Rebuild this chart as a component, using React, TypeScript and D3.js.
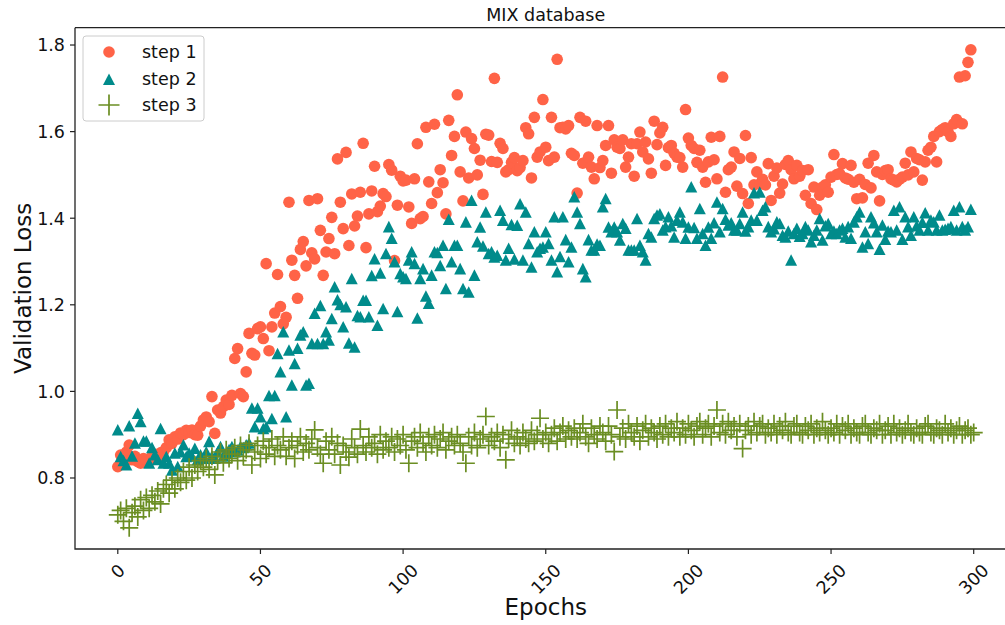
import * as d3 from "d3";

// validation loss per epoch
const step1 = [
  0.826, 0.853, 0.84, 0.86, 0.876, 0.842, 0.85, 0.838, 0.834, 0.845,
  0.84, 0.838, 0.85, 0.855, 0.849, 0.858, 0.861, 0.87, 0.888, 0.88,
  0.895, 0.89, 0.904, 0.9, 0.91, 0.905, 0.911, 0.9, 0.899, 0.92,
  0.934, 0.941, 0.93, 0.988, 0.903, 0.957, 0.95, 0.965, 0.98, 0.97,
  0.991, 1.076, 1.099, 0.995, 0.988, 1.045, 1.134, 1.088, 1.084, 1.145,
  1.149, 1.122, 1.295, 1.094, 1.149, 1.181, 1.27, 1.196, 1.156, 1.171,
  1.437, 1.303, 1.268, 1.215, 1.328, 1.346, 1.29, 1.441, 1.32, 1.306,
  1.445, 1.372, 1.268, 1.322, 1.353, 1.402, 1.318, 1.537, 1.437, 1.376,
  1.552, 1.337, 1.456, 1.382, 1.405, 1.46, 1.573, 1.332, 1.41, 1.463,
  1.52, 1.415, 1.428, 1.457, 1.45, 1.524, 1.511, 1.302, 1.43, 1.497,
  1.486, 1.488, 1.426, 1.388, 1.491, 1.572, 1.399, 1.404, 1.61, 1.484,
  1.434, 1.617, 1.459, 1.512, 1.482, 1.41, 1.626, 1.545, 1.589, 1.685,
  1.507, 1.44, 1.599, 1.493, 1.584, 1.561, 1.5, 1.534, 1.455, 1.594,
  1.592, 1.531, 1.723, 1.529, 1.573, 1.561, 1.507, 1.512, 1.529, 1.54,
  1.51, 1.517, 1.533, 1.609, 1.595, 1.493, 1.633, 1.541, 1.553, 1.674,
  1.564, 1.533, 1.633, 1.541, 1.767, 1.609, 1.61, 1.606, 1.614, 1.55,
  1.545, 1.458, 1.633, 1.527, 1.624, 1.541, 1.518, 1.491, 1.614, 1.517,
  1.533, 1.568, 1.614, 1.504, 1.581, 1.564, 1.561, 1.581, 1.518, 1.541,
  1.572, 1.497, 1.572, 1.599, 1.553, 1.576, 1.537, 1.504, 1.624, 1.57,
  1.597, 1.61, 1.522, 1.563, 1.568, 1.55, 1.541, 1.54, 1.518, 1.651,
  1.585, 1.568, 1.561, 1.529, 1.557, 1.518, 1.483, 1.53, 1.587, 1.535,
  1.491, 1.589, 1.726, 1.46, 1.512, 1.518, 1.553, 1.474, 1.538, 1.457,
  1.591, 1.434, 1.54, 1.477, 1.507, 1.479, 1.49, 1.477, 1.526, 1.441,
  1.497, 1.516, 1.458, 1.479, 1.524, 1.533, 1.512, 1.491, 1.522, 1.497,
  1.51, 1.453, 1.512, 1.434, 1.472, 1.42, 1.453, 1.472, 1.477, 1.46,
  1.495, 1.547, 1.501, 1.503, 1.526, 1.493, 1.49, 1.522, 1.483, 1.445,
  1.49, 1.447, 1.478, 1.527, 1.47, 1.545, 1.507, 1.44, 1.501, 1.51,
  1.512, 1.491, 1.488, 1.484, 1.49, 1.495, 1.527, 1.5, 1.553, 1.507,
  1.538, 1.535, 1.488, 1.53, 1.557, 1.564, 1.589, 1.53, 1.6, 1.605,
  1.609, 1.6, 1.589, 1.618, 1.628, 1.726, 1.618, 1.729, 1.76, 1.789,
];

const step2 = [
  0.911, 0.849, 0.84, 0.83, 0.92, 0.85, 0.88, 0.949, 0.93, 0.885,
  0.885, 0.834, 0.87, 0.853, 0.842, 0.914, 0.834, 0.849, 0.834, 0.818,
  0.857, 0.826, 0.86, 0.876, 0.849, 0.857, 0.85, 0.868, 0.842, 0.853,
  0.845, 0.86, 0.884, 0.85, 0.845, 0.86, 0.872, 0.85, 0.857, 0.865,
  0.872, 0.86, 0.864, 0.872, 0.87, 0.876, 0.88, 0.961, 0.918, 0.961,
  0.941, 0.914, 0.918, 0.99, 0.937, 0.99, 1.087, 1.045, 1.137, 0.941,
  1.095, 1.014, 1.064, 1.099, 1.13, 1.137, 1.014, 1.018, 1.11, 1.18,
  1.11, 1.198, 1.11, 1.137, 1.118, 1.168, 1.241, 1.211, 1.2, 1.149,
  1.195, 1.111, 1.26, 1.102, 1.175, 1.172, 1.21, 1.21, 1.172, 1.267,
  1.306, 1.152, 1.273, 1.191, 1.318, 1.38, 1.353, 1.299, 1.184, 1.272,
  1.264, 1.26, 1.303, 1.322, 1.295, 1.169, 1.26, 1.283, 1.22, 1.203,
  1.268, 1.322, 1.32, 1.29, 1.337, 1.237, 1.397, 1.299, 1.337, 1.337,
  1.283, 1.237, 1.391, 1.229, 1.441, 1.268, 1.345, 1.379, 1.335, 1.414,
  1.318, 1.322, 1.31, 1.314, 1.418, 1.395, 1.303, 1.33, 1.385, 1.305,
  1.383, 1.433, 1.303, 1.414, 1.341, 1.287, 1.368, 1.322, 1.33, 1.333,
  1.368, 1.341, 1.303, 1.403, 1.276, 1.311, 1.403, 1.35, 1.299, 1.333,
  1.449, 1.414, 1.387, 1.283, 1.264, 1.35, 1.326, 1.326, 1.34, 1.337,
  1.426, 1.445, 1.379, 1.368, 1.379, 1.368, 1.349, 1.387, 1.376, 1.326,
  1.326, 1.326, 1.399, 1.337, 1.322, 1.303, 1.364, 1.356, 1.399, 1.407,
  1.41, 1.372, 1.38, 1.403, 1.382, 1.356, 1.395, 1.414, 1.391, 1.353,
  1.379, 1.472, 1.378, 1.353, 1.422, 1.364, 1.337, 1.379, 1.353, 1.389,
  1.437, 1.368, 1.422, 1.397, 1.384, 1.389, 1.372, 1.372, 1.387, 1.414,
  1.37, 1.38, 1.395, 1.458, 1.395, 1.46, 1.418, 1.426, 1.38, 1.368,
  1.375, 1.391, 1.387, 1.36, 1.356, 1.37, 1.303, 1.364, 1.376, 1.358,
  1.364, 1.38, 1.372, 1.345, 1.36, 1.372, 1.399, 1.349, 1.382, 1.387,
  1.364, 1.37, 1.364, 1.372, 1.376, 1.356, 1.38, 1.353, 1.391, 1.403,
  1.414, 1.333, 1.368, 1.341, 1.403, 1.389, 1.368, 1.328, 1.384, 1.351,
  1.37, 1.368, 1.418, 1.372, 1.426, 1.351, 1.403, 1.38, 1.36, 1.403,
  1.382, 1.372, 1.39, 1.412, 1.372, 1.395, 1.391, 1.372, 1.407, 1.372,
  1.374, 1.376, 1.38, 1.418, 1.372, 1.426, 1.38, 1.372, 1.38, 1.42,
];

const step3 = [
  0.715, 0.725, 0.7, 0.73, 0.685, 0.72, 0.735, 0.71, 0.75, 0.725,
  0.755, 0.73, 0.76, 0.745, 0.77, 0.74, 0.775, 0.785, 0.765, 0.795,
  0.775, 0.8, 0.79, 0.815, 0.795, 0.825, 0.8, 0.83, 0.815, 0.84,
  0.825, 0.845, 0.82, 0.85, 0.807, 0.84, 0.86, 0.835, 0.865, 0.845,
  0.855, 0.87, 0.84, 0.875, 0.85, 0.865, 0.88, 0.83, 0.86, 0.875,
  0.845, 0.885, 0.855, 0.87, 0.89, 0.85, 0.875, 0.865, 0.895, 0.85,
  0.87, 0.885, 0.845, 0.875, 0.895, 0.86, 0.88, 0.865, 0.89, 0.911,
  0.87, 0.855, 0.834, 0.885, 0.865, 0.895, 0.855, 0.88, 0.83, 0.875,
  0.86, 0.848, 0.89, 0.87, 0.855, 0.913, 0.875, 0.86, 0.895, 0.87,
  0.88, 0.855, 0.9, 0.865, 0.885, 0.87, 0.895, 0.86, 0.89, 0.875,
  0.9, 0.865, 0.834, 0.885, 0.895, 0.87, 0.905, 0.88, 0.86, 0.895,
  0.875, 0.9, 0.87, 0.89, 0.905, 0.865, 0.885, 0.895, 0.875, 0.9,
  0.88, 0.86, 0.834, 0.895, 0.875, 0.905, 0.87, 0.89, 0.9, 0.942,
  0.875, 0.895, 0.885, 0.905, 0.87, 0.9, 0.842, 0.89, 0.91, 0.88,
  0.895, 0.875, 0.905, 0.89, 0.88, 0.91, 0.885, 0.9, 0.938, 0.89,
  0.905, 0.88, 0.9, 0.915, 0.885, 0.905, 0.92, 0.89, 0.91, 0.895,
  0.915, 0.89, 0.905, 0.925, 0.895, 0.88, 0.915, 0.9, 0.89, 0.92,
  0.905, 0.885, 0.92, 0.9, 0.861, 0.957, 0.895, 0.915, 0.89, 0.925,
  0.905, 0.895, 0.92, 0.885, 0.91, 0.925, 0.895, 0.915, 0.905, 0.89,
  0.92, 0.9, 0.925, 0.895, 0.915, 0.905, 0.93, 0.895, 0.915, 0.9,
  0.925, 0.91, 0.895, 0.92, 0.93, 0.9, 0.915, 0.925, 0.895, 0.92,
  0.957, 0.905, 0.925, 0.9, 0.93, 0.91, 0.92, 0.895, 0.925, 0.868,
  0.91, 0.92, 0.9, 0.93, 0.905, 0.92, 0.925, 0.9, 0.915, 0.905,
  0.925, 0.9, 0.92, 0.91, 0.93, 0.905, 0.9, 0.92, 0.925, 0.905,
  0.9, 0.92, 0.91, 0.925, 0.9, 0.915, 0.905, 0.93, 0.91, 0.9,
  0.915, 0.905, 0.925, 0.9, 0.92, 0.91, 0.925, 0.9, 0.915, 0.905,
  0.9, 0.92, 0.925, 0.905, 0.9, 0.915, 0.91, 0.925, 0.9, 0.91,
  0.92, 0.9, 0.925, 0.905, 0.915, 0.9, 0.91, 0.925, 0.905, 0.9,
  0.915, 0.905, 0.9, 0.92, 0.925, 0.905, 0.9, 0.915, 0.91, 0.9,
  0.925, 0.905, 0.915, 0.9, 0.91, 0.92, 0.9, 0.91, 0.915, 0.9,
  0.905,
];

const xTicks = [0, 50, 100, 150, 200, 250, 300];
const yTicks = [0.8, 1.0, 1.2, 1.4, 1.6, 1.8];
const seriesNames = ["step 1", "step 2", "step 3"];

const W = 1005;
const H = 625;
const left = 75;
const top = 27.7;
const bottom = 549;
const right = 1016.5; // axes run past the picture edge, no right spine visible

const c1 = "#ff6347";
const c2 = "#008b8b";
const c3 = "#6b8e23";
const FONT = "'DejaVu Sans', sans-serif";

const x = d3.scaleLinear().domain([-15, 315]).range([left, right]);
const y = d3.scaleLinear().domain([0.636, 1.84]).range([bottom, top]);

// matplotlib style "^" marker, centred on its box
function tri(cx: number, cy: number, r: number) {
  return `M${cx},${cy - r}L${cx - r},${cy + r * 0.92}L${cx + r},${cy + r * 0.92}Z`;
}

function plus(cx: number, cy: number, r: number) {
  return `M${cx - r},${cy}H${cx + r}M${cx},${cy - r}V${cy + r}`;
}

export default function App() {
  const midX = (left + right) / 2;
  const midY = (top + bottom) / 2;
  const fs = 17.5;

  return (
    <svg
      width={W}
      height={H}
      style={{ position: "fixed", left: 0, top: 0, background: "#fff" }}
      fontFamily={FONT}
    >
      <defs>
        <clipPath id="plotArea">
          <rect x={left} y={top} width={right - left} height={bottom - top} />
        </clipPath>
      </defs>

      <g clipPath="url(#plotArea)">
        {step1.map((v, i) => (
          <circle key={"a" + i} cx={x(i)} cy={y(v)} r={5.8} fill={c1} />
        ))}
        {step2.map((v, i) => (
          <path key={"b" + i} d={tri(x(i), y(v), 6)} fill={c2} />
        ))}
        {step3.map((v, i) => (
          <path key={"c" + i} d={plus(x(i), y(v), 9)} stroke={c3} strokeWidth={1.7} fill="none" />
        ))}
      </g>

      {/* spines */}
      <path d={`M${left},${top}V${bottom}H${W}`} stroke="#222" strokeWidth={1.3} fill="none" />
      <path d={`M${left},${top}H${W}`} stroke="#222" strokeWidth={1.3} fill="none" />

      {/* y axis */}
      {yTicks.map((t) => (
        <g key={"y" + t}>
          <line x1={left - 5} x2={left} y1={y(t)} y2={y(t)} stroke="#222" strokeWidth={1.2} />
          <text x={left - 10} y={y(t)} dy="0.36em" textAnchor="end" fontSize={fs} fill="#111">
            {t.toFixed(1)}
          </text>
        </g>
      ))}

      {/* x axis */}
      {xTicks.map((t) => {
        const label = String(t);
        const w = label.length * 0.636 * fs;
        const cy = bottom + 11 + ((w + fs * 1.15) * 0.7071) / 2;
        return (
          <g key={"x" + t}>
            <line x1={x(t)} x2={x(t)} y1={bottom} y2={bottom + 5} stroke="#222" strokeWidth={1.2} />
            <text
              transform={`translate(${x(t)},${cy}) rotate(-45)`}
              dy="0.36em"
              textAnchor="middle"
              fontSize={fs}
              fill="#111"
            >
              {label}
            </text>
          </g>
        );
      })}

      <text x={midX} y={21} textAnchor="middle" fontSize={fs} fill="#111">
        MIX database
      </text>
      <text x={midX} y={615} textAnchor="middle" fontSize={23} fill="#111">
        Epochs
      </text>
      <text
        transform={`translate(31,${midY}) rotate(-90)`}
        textAnchor="middle"
        fontSize={23}
        fill="#111"
      >
        Validation Loss
      </text>

      {/* legend */}
      <g>
        <rect x={83} y={36} width={121} height={85} rx={3} fill="#fff" fillOpacity={0.8} stroke="#ccc" />
        <circle cx={109} cy={52} r={5.8} fill={c1} />
        <path d={tri(109, 79.5, 6)} fill={c2} />
        <path d={plus(109, 105, 10.5)} stroke={c3} strokeWidth={1.7} fill="none" />
        {seriesNames.map((s, i) => (
          <text key={s} x={142} y={52 + i * 26.5} dy="0.36em" fontSize={fs} fill="#111">
            {s}
          </text>
        ))}
      </g>
    </svg>
  );
}
